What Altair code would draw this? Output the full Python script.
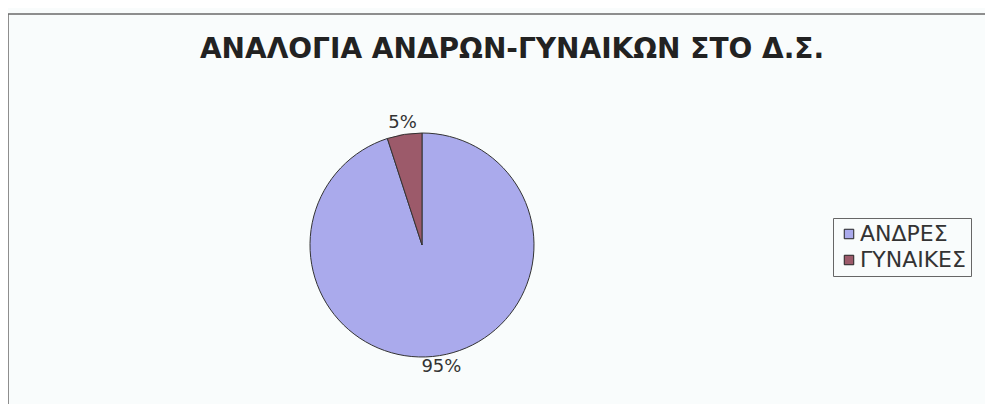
import altair as alt
import pandas as pd

TITLE = "ΑΝΑΛΟΓΙΑ ΑΝΔΡΩΝ-ΓΥΝΑΙΚΩΝ ΣΤΟ Δ.Σ."
categories = ["ΑΝΔΡΕΣ", "ΓΥΝΑΙΚΕΣ"]
values = [95, 5]
colors = ["#aaaaec", "#9c5a6a"]

W, H = 977, 390
CX, CY = 414, 231
R = 112

df = pd.DataFrame({"cat": categories, "value": values, "idx": list(range(len(categories)))})

base = alt.Chart(df).transform_joinaggregate(
    total="sum(value)"
).transform_calculate(
    pct="datum.value / datum.total"
).encode(
    theta=alt.Theta("value:Q", stack=True),
    order=alt.Order("idx:Q"),
)

pie = base.mark_arc(radius=R, stroke="#333333", strokeWidth=1).encode(
    x=alt.value(CX),
    y=alt.value(CY),
    color=alt.Color(
        "cat:N",
        scale=alt.Scale(domain=categories, range=colors),
        sort=categories,
        legend=alt.Legend(
            title=None,
            orient="none",
            legendX=825,
            legendY=204,
            symbolType="square",
            symbolSize=90,
            symbolStrokeColor="#222222",
            symbolStrokeWidth=1,
            labelFontSize=22,
            labelFont="DejaVu Sans",
            labelColor="#333333",
            labelOffset=0,
            labelLimit=300,
            rowPadding=4,
            strokeColor="#666666",
            padding=5,
        ),
    ),
)

labels = base.mark_text(
    radius=R + 12, fontSize=18, font="DejaVu Sans", color="#333333"
).encode(
    x=alt.value(CX),
    y=alt.value(CY),
    text=alt.Text("pct:Q", format=".0%"),
)

title = alt.Chart(alt.Data(values=[{"t": TITLE}])).mark_text(
    fontSize=28, fontWeight="bold", font="DejaVu Sans", color="#222222",
    baseline="alphabetic", align="center"
).encode(
    x=alt.value(504), y=alt.value(44), text="t:N"
)

frame_top = alt.Chart(alt.Data(values=[{}])).mark_rule(color="#6a6a6a", strokeWidth=1.5).encode(
    x=alt.value(0), x2=alt.value(W), y=alt.value(0)
)
frame_left = alt.Chart(alt.Data(values=[{}])).mark_rule(color="#6a6a6a", strokeWidth=1.5).encode(
    x=alt.value(0), y=alt.value(0), y2=alt.value(H)
)

chart = alt.layer(frame_top, frame_left, title, pie, labels).properties(
    width=W,
    height=H,
    autosize=alt.AutoSizeParams(type="none"),
    padding={"left": 0, "top": 6, "right": 0, "bottom": 0},
    background="#f9fcfc",
).configure_view(stroke=None)

chart.save("out.html", embed_options={"renderer": "svg", "actions": False})
